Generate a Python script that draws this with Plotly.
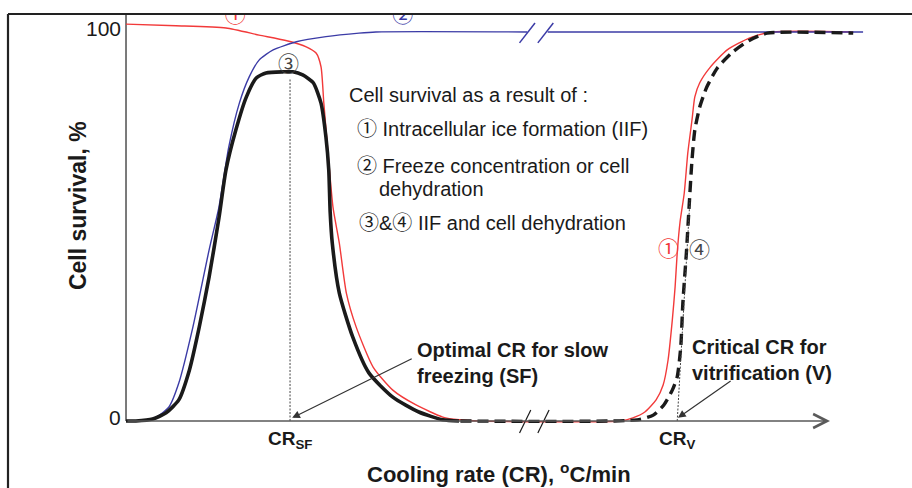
import plotly.graph_objects as go

# ---- data -------------------------------------------------------------
# x: cooling rate on a schematic scale (0 = origin, 100 = end of the axis arrow)
# y: cell survival, %

# curve 1: survival limited by intracellular ice formation (red)
iif_x = [0, 7.1, 14.2, 18.9, 22.7, 25.6, 27.0, 27.7, 28.1, 28.7,
         29.4, 30.3, 31.3, 32.7, 35.1, 37.9, 41.2, 45.0, 47.3, 50.3,
         70.2, 72.0, 73.7, 75.3, 76.3, 77.0, 77.6, 78.0, 78.3, 78.7,
         79.3, 79.8, 80.4, 80.8, 81.5, 83.0, 85.4, 88.6, 91.9, 103.3]
iif_y = [101.5, 101.1, 100.5, 98.7, 97.3, 95.7, 94.1, 90.6, 81.3, 68.5,
         54.7, 45.5, 32.7, 24.0, 13.8, 7.9, 4.1, 1.0, 0.3, 0,
         0, 0.8, 2.3, 5.4, 9.2, 15.6, 25.8, 34.3, 43.0, 50.9,
         58.3, 68.5, 77.0, 82.9, 86.5, 90.5, 94.9, 98.0, 99.5, 99.5]

# curve 2: survival limited by freeze concentration / dehydration (blue)
dehyd_x = [0, 1.9, 4.3, 6.1, 7.5, 9.5, 11.8, 13.2, 14.6, 16.1,
           17.5, 18.9, 20.9, 24.2, 28.4, 33.1, 35.5, 57.0, None, 59.9, 104.7]
dehyd_y = [0, 0, 1.0, 3.6, 9.7, 24.0, 43.7, 54.7, 70.1, 81.3,
           88.0, 92.3, 94.9, 97.0, 98.3, 99.2, 99.5, 99.5, None, 99.5, 99.5]

# curve 3: combined effect, slow-freezing window (black solid)
sf_x = [0, 1.4, 3.8, 5.7, 7.5, 9.0, 10.4, 11.8, 13.2, 14.2,
        15.6, 17.1, 18.5, 19.9, 22.3, 23.7, 25.1, 26.6, 27.7, 28.4,
        28.8, 29.0, 29.3, 30.3, 32.2, 34.5, 37.9, 41.6, 45.0, 47.3]
sf_y = [0, 0, 0.5, 2.1, 5.4, 13.0, 24.0, 36.8, 51.9, 64.2,
        74.4, 82.9, 87.7, 89.0, 89.3, 89.3, 88.5, 86.5, 81.3, 72.6,
        64.2, 53.5, 45.5, 32.7, 21.5, 12.3, 6.1, 2.3, 0.3, 0]

# curve 4: combined effect, vitrification (black dashed)
vit_x = [47.5, 72.6, 74.9, 76.4, 77.6, 78.3, 78.8, 79.1, 79.6, 80.0,
         80.4, 80.8, 81.5, 82.5, 84.0, 86.2, 88.6, 91.1, 103.3]
vit_y = [0, 0.3, 1.5, 4.1, 7.9, 11.3, 18.9, 30.2, 43.0, 55.2,
         66.8, 74.4, 80.3, 85.4, 90.3, 94.4, 97.4, 99.2, 99.2]

# characteristic cooling rates
CR_SF = 23.3          # optimal rate for slow freezing
CR_SF_PEAK = 89.0
CR_V = 78.3           # critical rate for vitrification
CR_V_TANGENT = (80.1, 56.5)

# axis-break positions on the cooling-rate scale
BREAK_X = [(55.9, 58.1), (58.5, 60.7)]

Y_TICKS = [0, 100]
Y_TICK_TEXT = ["0", "100"]

# ---- styling ----------------------------------------------------------
FONT = "Arial, 'Liberation Sans', Helvetica, 'Noto Sans CJK JP', sans-serif"
CIRC = "'Noto Sans CJK JP', 'DejaVu Sans', sans-serif"
RED = "#f23a3a"
BLUE = "#3b3ba6"
INK = "#1a1a1a"
AXIS = "#5a5a5a"

X_RANGE = [-17.9, 111.65]
Y_RANGE = [-17.14, 107.67]

fig = go.Figure()

fig.add_trace(go.Scatter(x=iif_x, y=iif_y, mode="lines",
                         line=dict(color=RED, width=1.4, shape="spline", smoothing=0.6),
                         hoverinfo="skip"))
fig.add_trace(go.Scatter(x=dehyd_x, y=dehyd_y, mode="lines",
                         line=dict(color=BLUE, width=1.4, shape="spline", smoothing=0.6),
                         hoverinfo="skip"))
fig.add_trace(go.Scatter(x=sf_x, y=sf_y, mode="lines",
                         line=dict(color=INK, width=3.6, shape="spline", smoothing=0.6),
                         hoverinfo="skip"))
fig.add_trace(go.Scatter(x=vit_x, y=vit_y, mode="lines",
                         line=dict(color=INK, width=3.4, dash="11px,6px",
                                   shape="spline", smoothing=0.6),
                         hoverinfo="skip"))

# circled curve numbers at the top edge (partly hidden under the frame)
fig.add_trace(go.Scatter(x=[15.5, 39.3], y=[103.4, 103.4], mode="text",
                         text=["①", "②"],
                         textfont=dict(family=CIRC, size=21, color=[RED, BLUE]),
                         hoverinfo="skip"))

shapes = []
# y axis
shapes.append(dict(type="line", xref="x", yref="paper", x0=0, x1=0,
                   y0=(0 - Y_RANGE[0]) / (Y_RANGE[1] - Y_RANGE[0]), y1=1,
                   line=dict(color=AXIS, width=1.6), layer="below"))
# guide lines to the characteristic rates
shapes.append(dict(type="line", x0=CR_SF, x1=CR_SF, y0=0, y1=CR_SF_PEAK - 1.5,
                   line=dict(color="#444", width=1, dash="2px,1.5px")))
shapes.append(dict(type="line", x0=CR_V, x1=CR_V_TANGENT[0], y0=0, y1=CR_V_TANGENT[1],
                   line=dict(color="#444", width=1, dash="2px,1.5px")))
# axis-break marks
for a, b in BREAK_X:
    shapes.append(dict(type="line", x0=a, x1=b, y0=96.7, y1=101.8,
                       line=dict(color=BLUE, width=1.5)))
    shapes.append(dict(type="line", x0=a, x1=b - 0.6, y0=-3.1, y1=2.8,
                       line=dict(color=INK, width=1.2)))
# white margin above the frame, then the frame itself
top = 1 - 14 / 488
left = 8 / 912
shapes.append(dict(type="rect", xref="paper", yref="paper", x0=0, x1=1, y0=top, y1=1,
                   fillcolor="white", line=dict(width=0), layer="above"))
shapes.append(dict(type="line", xref="paper", yref="paper", x0=left, x1=1, y0=top, y1=top,
                   line=dict(color="#222", width=2.2), layer="above"))
shapes.append(dict(type="line", xref="paper", yref="paper", x0=left, x1=left, y0=0, y1=top,
                   line=dict(color="#222", width=2.2), layer="above"))

ann = []
# x axis with open arrow head
ann.append(dict(x=100, y=0, ax=0, ay=0, xref="x", yref="y", axref="x", ayref="y",
                text="", showarrow=True, arrowhead=5, arrowsize=1.7,
                arrowwidth=1.6, arrowcolor=AXIS))
# y tick labels
for v, t in zip(Y_TICKS, Y_TICK_TEXT):
    ann.append(dict(x=0, y=v, text=t, showarrow=False, xanchor="right", yanchor="middle",
                    xshift=-3, yshift=3 if v == 0 else 1,
                    font=dict(family=FONT, size=21, color=INK)))
# axis titles
ann.append(dict(x=-6.8, y=55.0, text="<b>Cell survival, %</b>", textangle=-90,
                showarrow=False, xanchor="center", yanchor="middle",
                font=dict(family=FONT, size=23, color=INK)))
ann.append(dict(x=53.0, y=-13.8, yshift=2,
                text="<b>Cooling rate (CR), <sup>o</sup>C/min</b>",
                showarrow=False, xanchor="center", yanchor="middle",
                font=dict(family=FONT, size=22, color=INK)))
# characteristic rate labels
ann.append(dict(x=CR_SF, y=0, text="<b>CR<sub>SF</sub></b>", showarrow=False,
                xanchor="center", yanchor="top", yshift=-5,
                font=dict(family=FONT, size=19, color=INK)))
ann.append(dict(x=CR_V, y=0, text="<b>CR<sub>V</sub></b>", showarrow=False,
                xanchor="center", yanchor="top", yshift=-5,
                font=dict(family=FONT, size=19, color=INK)))
# callouts
ann.append(dict(x=23.6, y=0.8, ax=40.8, ay=16.1, xref="x", yref="y", axref="x", ayref="y",
                text="", showarrow=True, arrowhead=2, arrowsize=1.3, arrowwidth=1.2,
                arrowcolor="#333"))
ann.append(dict(x=78.4, y=0.8, ax=86.1, ay=10.5, xref="x", yref="y", axref="x", ayref="y",
                text="", showarrow=True, arrowhead=2, arrowsize=1.3, arrowwidth=1.2,
                arrowcolor="#333"))
ann.append(dict(x=41.0, y=14.8, text="<b>Optimal CR for slow<br>freezing (SF)</b>",
                showarrow=False, xanchor="left", yanchor="middle", align="left",
                font=dict(family=FONT, size=20, color=INK)))
ann.append(dict(x=80.1, y=15.6, text="<b>Critical CR for<br>vitrification (V)</b>",
                showarrow=False, xanchor="left", yanchor="middle", align="left",
                font=dict(family=FONT, size=20, color=INK)))
# curve numbers
for x, y, t, c in [(23.1, 91.7, "③", "#444"), (77.0, 44.5, "①", RED), (81.5, 44.3, "④", "#444")]:
    ann.append(dict(x=x, y=y, text=t, showarrow=False, xanchor="center", yanchor="middle",
                    font=dict(family=CIRC, size=21, color=c)))
# key
key = [(31.4, 83.4, "Cell survival as a result of :"),
       (32.5, 74.7, "① Intracellular ice formation (IIF)"),
       (32.5, 65.2, "② Freeze concentration or cell"),
       (35.6, 59.3, "dehydration"),
       (32.8, 50.6, "③&④ IIF and cell dehydration")]
for x, y, t in key:
    ann.append(dict(x=x, y=y, text=t, showarrow=False, xanchor="left", yanchor="middle",
                    font=dict(family=FONT, size=20, color=INK)))

fig.update_layout(
    width=912, height=488,
    margin=dict(l=0, r=0, t=0, b=0),
    paper_bgcolor="white", plot_bgcolor="white",
    showlegend=False,
    xaxis=dict(range=X_RANGE, visible=False, fixedrange=True),
    yaxis=dict(range=Y_RANGE, visible=False, fixedrange=True),
    shapes=shapes,
    annotations=ann,
)

fig.write_html("out.html", config={"displayModeBar": False})
